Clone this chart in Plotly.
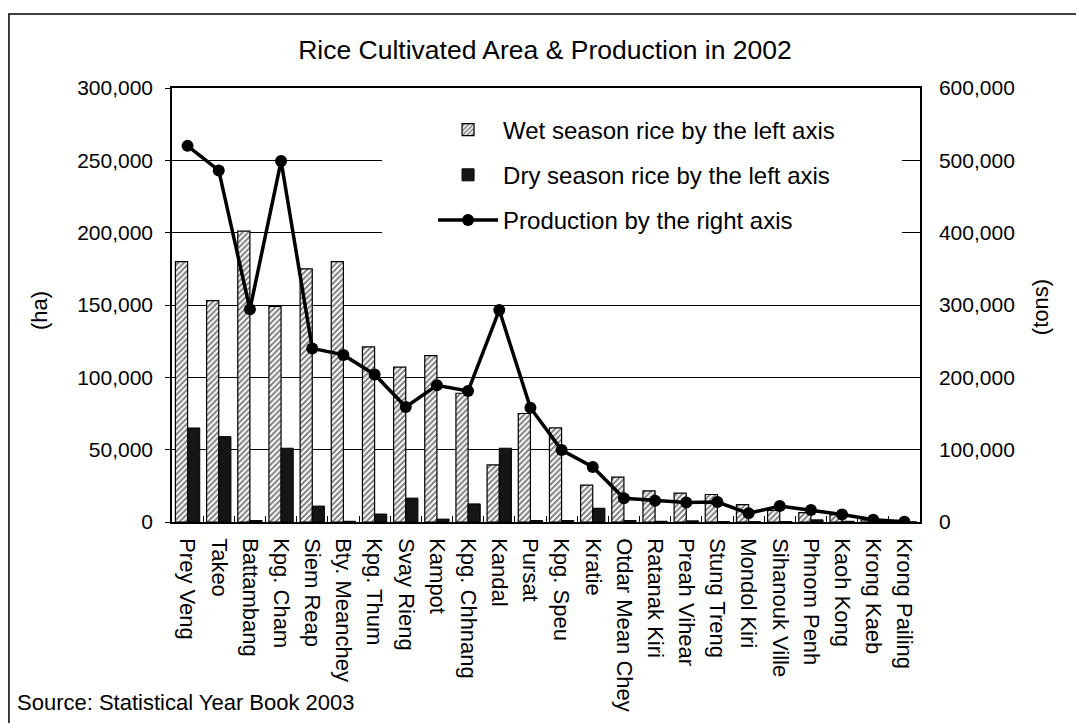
import plotly.graph_objects as go

provinces = ["Prey Veng", "Takeo", "Battambang", "Kpg. Cham", "Siem Reap", "Bty. Meanchey",
             "Kpg. Thum", "Svay Rieng", "Kampot", "Kpg. Chhnang", "Kandal", "Pursat",
             "Kpg. Speu", "Kratie", "Otdar Mean Chey", "Ratanak Kiri", "Preah Vihear",
             "Stung Treng", "Mondol Kiri", "Sihanouk Ville", "Phnom Penh", "Kaoh Kong",
             "Krong Kaeb", "Krong Pailing"]

wet_ha = [180000, 153000, 201000, 149000, 175000, 180000, 121000, 107000, 115000, 89000,
          39500, 75000, 65000, 25500, 31000, 21500, 20000, 19000, 12000, 8000, 6500, 5000,
          1500, 800]

dry_ha = [65000, 59000, 1000, 51000, 11000, 500, 5500, 16500, 2000, 12500, 51000, 1000,
          1000, 9500, 1000, 500, 800, 300, 200, 300, 1500, 500, 200, 100]

production_t = [520000, 486000, 294000, 499000, 240000, 231000, 204000, 159000, 189000,
                181000, 293000, 158000, 99500, 76000, 32700, 29500, 27000, 27500, 12000,
                22000, 16500, 10500, 3000, 500]

FONT = "Liberation Sans, Arial, sans-serif"

fig = go.Figure()
fig.add_trace(go.Bar(
    x=provinces, y=wet_ha, name="Wet season rice by the left axis",
    legendgroup="a",
    marker=dict(color="white", line=dict(color="black", width=1.2),
                pattern=dict(shape="/", fgcolor="black", bgcolor="white", size=4, solidity=0.5)),
))
fig.add_trace(go.Bar(
    x=provinces, y=dry_ha, name="Dry season rice by the left axis",
    legendgroup="b",
    marker=dict(color="#151515", line=dict(color="black", width=1)),
))
fig.add_trace(go.Scatter(
    x=provinces, y=production_t, name="Production by the right axis", yaxis="y2",
    legendgroup="c",
    mode="lines+markers", line=dict(color="black", width=3.5),
    marker=dict(color="black", size=12, symbol="circle"),
))

fig.update_layout(
    width=1076, height=723,
    margin=dict(l=172, r=156, t=88, b=201),
    paper_bgcolor="white", plot_bgcolor="white",
    font=dict(family=FONT, color="black", size=20),
    barmode="group", bargap=0.22, bargroupgap=0,
    title=dict(text="Rice Cultivated Area & Production in 2002", x=0.5065, xref="container",
               y=0.931, yref="container", xanchor="center", yanchor="middle",
               font=dict(size=26.5, family=FONT, color="black")),
    showlegend=True,
    legend=dict(x=0.349, y=0.955, xanchor="left", yanchor="top", bgcolor="rgba(0,0,0,0)",
                font=dict(size=24, family=FONT), tracegroupgap=11, itemwidth=60,
                traceorder="grouped"),
    xaxis=dict(type="category", range=[-0.5, 23.5], showline=True, linecolor="black",
               linewidth=1.5, mirror=True,
               ticks="inside", tickson="boundaries", ticklen=6, tickcolor="black",
               tickangle=90, tickfont=dict(size=22), showgrid=False,
               ticklabelstandoff=10),
    yaxis=dict(range=[0, 300000], dtick=50000, tickformat=",d", showline=True,
               linecolor="black", linewidth=1.5, ticks="outside", ticklen=5,
               tickcolor="black", showgrid=True, gridcolor="black", gridwidth=1,
               tickfont=dict(size=21), zeroline=False, ticklabelstandoff=8),
    yaxis2=dict(range=[0, 600000], dtick=100000, tickformat=",d", overlaying="y",
                side="right", showline=True, linecolor="black", linewidth=1.5,
                ticks="", showgrid=False, zeroline=False, tickfont=dict(size=21),
                ticklabelstandoff=13),
    shapes=[
        dict(type="rect", xref="x", yref="y", x0=6.24, x1=22.92, y0=188000, y1=291500,
             fillcolor="white", line=dict(width=0), layer="between"),
        dict(type="rect", xref="paper", yref="paper", x0=-0.218, x1=1.3, y0=-0.52, y1=1.1705,
             fillcolor="rgba(0,0,0,0)", line=dict(color="black", width=1.5), layer="above"),
    ],
    annotations=[
        dict(text="(ha)", x=-0.1765, y=0.4885, xref="paper", yref="paper", showarrow=False,
             textangle=-90, font=dict(size=22), xanchor="center", yanchor="middle"),
        dict(text="(tons)", x=1.1604, y=0.495, xref="paper", yref="paper", showarrow=False,
             textangle=-90, font=dict(size=22), xanchor="center", yanchor="middle"),
        dict(text="Source: Statistical Year Book 2003", x=-0.21, y=-0.417, xref="paper",
             yref="paper", showarrow=False, xanchor="left", yanchor="middle",
             font=dict(size=22)),
    ],
)

fig.write_html("out.html")
